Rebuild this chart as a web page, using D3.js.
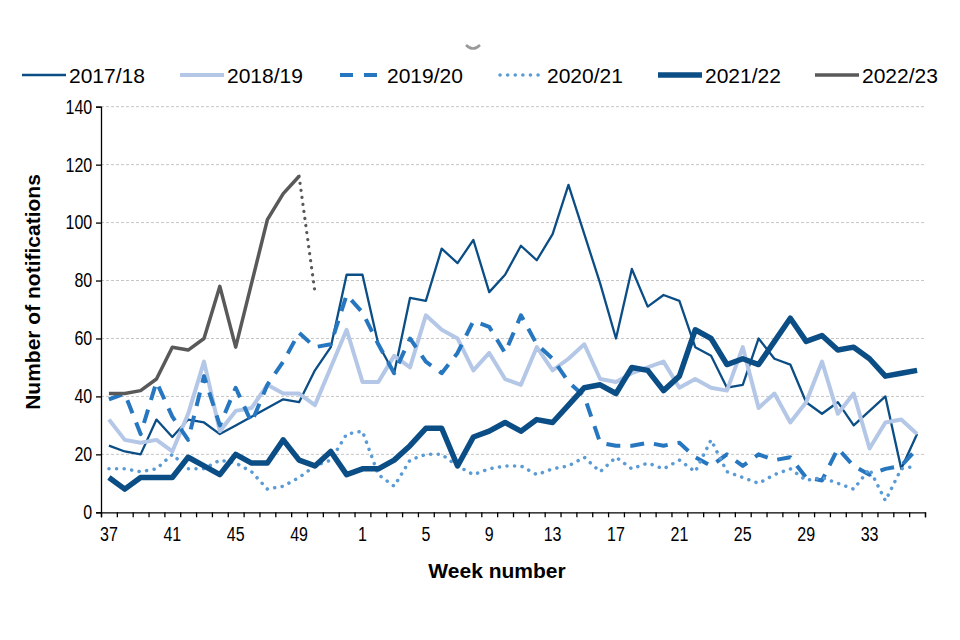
<html>
<head>
<meta charset="utf-8">
<script src="https://d3js.org/d3.v7.min.js"></script>
<style>
  body { margin: 0; background: #fff; }
  text { font-family: "Liberation Sans", Arial, sans-serif; fill: #000; }
</style>
</head>
<body>
<svg width="960" height="640"></svg>
<script>
// week numbers, season runs week 37 -> week 36
var weeks = d3.range(37, 53).concat(d3.range(1, 37));
var labelWeeks = [37, 41, 45, 49, 1, 5, 9, 13, 17, 21, 25, 29, 33];
var yTicks = [0, 20, 40, 60, 80, 100, 120, 140];

var s1718 = [23,21,20,32,26,32,31,27,30,33,36,39,38,49,57,82,82,58,48,74,73,91,86,94,76,82,92,87,96,113,96,79,60,84,71,75,73,57,54,43,44,60,53,51,38,34,38,30,35,40,15,27];
var s1819 = [32,25,24,25,21,34,52,28,35,36,44,41,41,37,50,63,45,45,54,50,68,63,60,49,55,46,44,57,49,53,58,46,45,48,50,52,43,46,43,42,57,36,41,31,38,52,34,41,22,31,32,27];
var s1920 = [39,41,27,45,33,25,47,30,43,31,44,52,62,57,58,75,69,58,48,60,52,48,55,66,64,55,68,58,53,45,40,24,23,23,24,23,24,19,16,20,16,20,18,19,12,11,22,16,13,15,16,22];
var s2021 = [15,15,14,15,20,15,15,18,17,14,8,9,12,16,18,27,28,13,9,18,20,20,16,13,15,16,16,13,15,16,19,14,19,15,17,15,18,14,25,14,12,10,13,15,11,12,10,8,15,4,15,16];
var s2122 = [12,8,12,12,12,19,16,13,20,17,17,25,18,16,21,13,15,15,18,23,29,29,16,26,28,31,28,32,31,37,43,44,41,50,49,42,47,63,60,51,53,51,59,67,59,61,56,57,53,47,48,49];
var s2223 = [41,41,42,46,57,56,60,78,57,79,101,110,116,76];
var provisionalFrom = 12; // last point (week 50) is provisional, drawn dotted

var seasons = ["2017/18", "2018/19", "2019/20", "2020/21", "2021/22", "2022/23"];

var styles = [
  { color: "#0b4d85", width: 2.3, dash: null },
  { color: "#b4c7e7", width: 4, dash: null },
  { color: "#2677bf", width: 4, dash: "14,10" },
  { color: "#5b9bd5", width: 3.5, dash: "0.1,7.5" },
  { color: "#0b4d85", width: 5.5, dash: null },
  { color: "#595959", width: 3.5, dash: null }
];
var allSeries = [s1718, s1819, s1920, s2021, s2122, s2223.slice(0, provisionalFrom + 1)];

var svg = d3.select("svg");

var x = d3.scaleBand().domain(d3.range(weeks.length)).range([101, 925]).padding(0);
var xEdge = d3.scaleLinear().domain([0, weeks.length]).range([101, 925]);
var y = d3.scaleLinear().domain([0, 140]).range([512.3, 106.7]);

function cx(i) { return x(i) + x.bandwidth() / 2; }

// gridlines
svg.append("g")
  .selectAll("line")
  .data(yTicks.slice(1))
  .enter().append("line")
  .attr("x1", 101).attr("x2", 925)
  .attr("y1", function(d) { return y(d); })
  .attr("y2", function(d) { return y(d); })
  .style("stroke", "#c6c6c6")
  .style("stroke-width", 1)
  .style("stroke-dasharray", "3,2");

// y axis
var yAxis = svg.append("g")
  .attr("transform", "translate(101,0)")
  .call(d3.axisLeft(y).tickValues(yTicks).tickSize(5).tickPadding(4));
yAxis.select(".domain").style("stroke", "#000").style("stroke-width", 1.3);
yAxis.selectAll(".tick line").style("stroke", "#000").style("stroke-width", 1.3);
yAxis.selectAll("text")
  .style("font-size", "20px")
  .style("font-family", "Liberation Sans, Arial, sans-serif")
  .attr("x", -11)
  .attr("transform", "scale(0.8,1)");

// x axis: ticks between categories
var xAxis = svg.append("g")
  .attr("transform", "translate(0,512.3)")
  .call(d3.axisBottom(xEdge).tickValues(d3.range(weeks.length + 1)).tickSize(5).tickFormat(""));
xAxis.select(".domain").style("stroke", "#000").style("stroke-width", 1.3);
xAxis.selectAll(".tick line").style("stroke", "#000").style("stroke-width", 1.3);

var xLabels = svg.append("g")
  .attr("transform", "translate(0,512.3)")
  .call(d3.axisBottom(x)
    .tickValues(d3.range(weeks.length).filter(function(i) { return labelWeeks.indexOf(weeks[i]) >= 0; }))
    .tickSize(0).tickPadding(15)
    .tickFormat(function(i) { return weeks[i]; }));
xLabels.select(".domain").remove();
xLabels.selectAll("text")
  .style("font-size", "20px")
  .style("font-family", "Liberation Sans, Arial, sans-serif")
  .attr("transform", "scale(0.8,1)");

// axis titles
svg.append("text")
  .attr("x", 497).attr("y", 578)
  .attr("text-anchor", "middle")
  .style("font-size", "21px").style("font-weight", "bold")
  .text("Week number");

svg.append("text")
  .attr("transform", "translate(40,292) rotate(-90)")
  .attr("text-anchor", "middle")
  .style("font-size", "21px").style("font-weight", "bold")
  .text("Number of notifications");

// lines
var line = d3.line()
  .x(function(d, i) { return cx(i); })
  .y(function(d) { return y(d); });

var lines = svg.append("g");
allSeries.forEach(function(s, k) {
  lines.append("path")
    .datum(s)
    .attr("d", line)
    .style("fill", "none")
    .style("stroke", styles[k].color)
    .style("stroke-width", styles[k].width)
    .style("stroke-linejoin", "round")
    .style("stroke-linecap", styles[k].dash && k == 3 ? "round" : "butt")
    .style("stroke-dasharray", styles[k].dash);
});

// provisional part of 2022/23
var provLine = d3.line()
  .x(function(d, i) { return cx(provisionalFrom + i); })
  .y(function(d) { return y(d); });
lines.append("path")
  .datum(s2223.slice(provisionalFrom))
  .attr("d", provLine)
  .style("fill", "none")
  .style("stroke", "#595959")
  .style("stroke-width", 3.2)
  .style("stroke-linecap", "round")
  .style("stroke-dasharray", "0.1,7");

// legend
var legendX = [22, 180, 340, 500, 658, 815];
var legend = svg.append("g").attr("transform", "translate(0,75)");
seasons.forEach(function(name, k) {
  var g = legend.append("g").attr("transform", "translate(" + legendX[k] + ",0)");
  g.append("line")
    .attr("x1", 0).attr("x2", 44).attr("y1", 0).attr("y2", 0)
    .style("stroke", styles[k].color)
    .style("stroke-width", styles[k].width)
    .style("stroke-linecap", k == 3 ? "round" : "butt")
    .style("stroke-dasharray", k == 2 ? "13,11" : styles[k].dash);
  g.append("text")
    .attr("x", 47).attr("y", 8)
    .style("font-size", "21px")
    .text(name);
});

// small grey mark above the plot
svg.append("path")
  .attr("d", "M466,45 Q473,52 480,45")
  .style("fill", "none")
  .style("stroke", "#9a9a9a")
  .style("stroke-width", 2.5);
</script>
</body>
</html>
